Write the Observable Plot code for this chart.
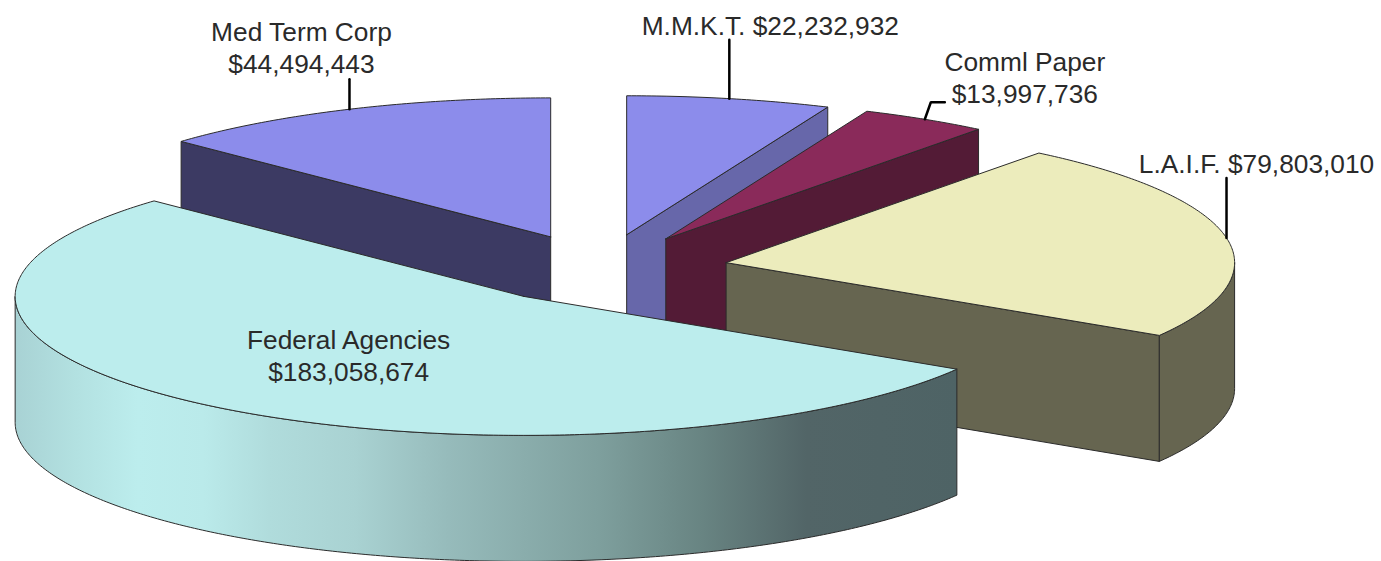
<!DOCTYPE html>
<html>
<head>
<meta charset="utf-8">
<script src="https://cdn.jsdelivr.net/npm/d3@7"></script>
<script src="https://cdn.jsdelivr.net/npm/@observablehq/plot@0.6"></script>
<style>
html,body{margin:0;padding:0;background:#fff}
svg{display:block}
</style>
</head>
<body>
<div id="chart"></div>
<script>
// data, clockwise from 12 o'clock
const categories = ["M.M.K.T.", "Comml Paper", "L.A.I.F.", "Federal Agencies", "Med Term Corp"];
const values = [22232932, 13997736, 79803010, 183058674, 44494443];
const separators = [" ", "\n", " ", "\n", "\n"];

// styles
const topFill = ["#8C8CEB", "#8A2A5A", "#ECECBC", "#BCEDED", "#8C8CEB"];
const wallFill = ["#6767AA", "#531B36", "#666550", "url(#fedWall)", "#3C3A63"];
const paintOrder = [4, 0, 1, 2, 3];

// pie geometry (unit radius; the scales turn the unit circle into the tilted ellipse)
const W = 1381, H = 561;
const cx = 600.5, cy = 268.3, rx = 508.5, ry = 139;
const depth = 126 / ry, explode = 0.25;

const total = d3.sum(values);
let acc = 0;
const slices = values.map((v, i) => {
  const a0 = acc / total * 2 * Math.PI;
  acc += v;
  const a1 = acc / total * 2 * Math.PI;
  const mid = (a0 + a1) / 2;
  const ox = explode * Math.sin(mid), oy = explode * Math.cos(mid);
  const arc = (s, e) => {
    const n = Math.max(2, Math.ceil((e - s) / 0.01));
    return d3.range(n + 1).map(k => {
      const t = s + (e - s) * k / n;
      return {x: ox + Math.sin(t), y: oy + Math.cos(t)};
    });
  };
  return {i, name: categories[i], value: v, a0, a1, mid, ox, oy, arc,
    anchor: {x: ox + Math.sin(mid), y: oy + Math.cos(mid)},
    apex: {x: ox, y: oy}};
});
const down = p => ({x: p.x, y: p.y - depth});
const closed = pts => [...pts, pts[0]];

const edgeStyle = {x: "x", y: "y", stroke: "#2b2b2b", strokeWidth: 1, strokeLinejoin: "round"};
const poly = (pts, fill, extra = {}) => Plot.line(closed(pts), {...edgeStyle, fill, ...extra});

const marks = [];
for (const idx of paintOrder) {
  const s = slices[idx];
  const edgePt = t => ({x: s.ox + Math.sin(t), y: s.oy + Math.cos(t)});
  const wall = t => {
    const p = edgePt(t);
    return [s.apex, p, down(p), down(s.apex)];
  };
  // radial walls that face the viewer
  if (s.a0 > Math.PI) marks.push(poly(wall(s.a0), wallFill[idx]));
  if (s.a1 < Math.PI) marks.push(poly(wall(s.a1), wallFill[idx]));
  // outer wall: only the front half of the rim shows
  const f0 = Math.max(s.a0, Math.PI / 2), f1 = Math.min(s.a1, 1.5 * Math.PI);
  if (f1 > f0) {
    const rim = s.arc(f0, f1);
    marks.push(poly([...rim, ...rim.slice().reverse().map(down)], wallFill[idx]));
  }
  // top face
  marks.push(poly([s.apex, ...s.arc(s.a0, s.a1)], topFill[idx]));
}

// leaders, from the middle of each rim
const ux = px => px / rx, uy = px => px / ry;
const leaderStyle = {x: "x", y: "y", stroke: "#000", strokeWidth: 2.5, strokeLinejoin: "miter"};
const leaderBends = [
  [[0, 59]],
  [[6, 17], [20, 17]],
  [[0, 60]],
  null,
  [[0, 30]]
];
slices.forEach((s, i) => {
  if (!leaderBends[i]) return;
  const pts = [s.anchor, ...leaderBends[i].map(([dx, dy]) => ({x: s.anchor.x + ux(dx), y: s.anchor.y + uy(dy)}))];
  marks.push(Plot.line(pts, leaderStyle));
});

// labels
const labelShift = [
  [41, -64],
  [100, -16],
  [30, -65],
  [-175, 85],
  [-48, -36]
];
slices.forEach((s, i) => {
  const at = s.i === 3 ? s.apex : s.anchor;
  marks.push(Plot.text([at], {
    x: "x", y: "y",
    text: () => `${s.name}${separators[i]}$${d3.format(",")(s.value)}`,
    dx: labelShift[i][0], dy: labelShift[i][1],
    textAnchor: "middle", lineAnchor: "bottom", lineHeight: 1.22,
    fontSize: 26.3, fontFamily: "'Liberation Sans', Arial, sans-serif", fill: "#2a2a2a",
    stroke: "none"
  }));
});

// gradient of the big rim
const stops = [[0, "#A8D2D4"], [0.06, "#B2E0E0"], [0.13, "#BCEDED"], [0.2, "#BAEAEA"], [0.27, "#B0DCDC"], [0.36, "#A9D2D2"],
  [0.46, "#96BBBB"], [0.62, "#7E9F9D"], [0.73, "#688482"], [0.84, "#526567"], [1, "#4E6365"]];
const defs = () => {
  const d = d3.create("svg:defs");
  const g = d.append("linearGradient").attr("id", "fedWall");
  stops.forEach(([o, c]) => g.append("stop").attr("offset", o).attr("stop-color", c));
  return d.node();
};

const chart = Plot.plot({
  width: W, height: H, margin: 0,
  style: {background: "#fff", overflow: "visible"},
  x: {domain: [-cx / rx, (W - cx) / rx], axis: null},
  y: {domain: [-(H - cy) / ry, cy / ry], axis: null},
  marks: [defs, ...marks]
});
document.getElementById("chart").append(chart);
</script>
</body>
</html>
